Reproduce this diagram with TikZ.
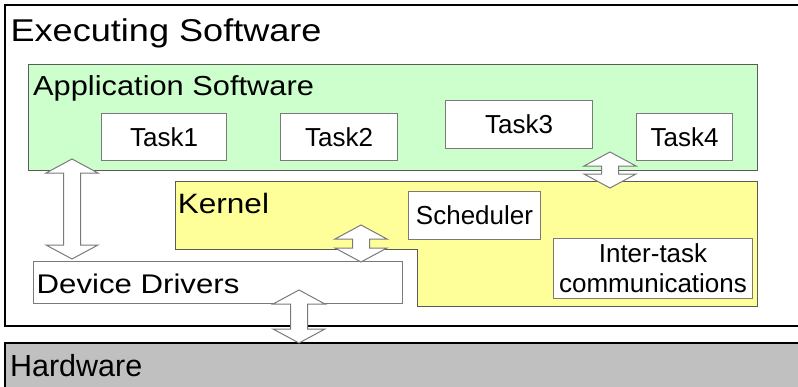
\documentclass[tikz,border=0pt]{standalone}
\usepackage{fontspec}
\setmainfont{Liberation Sans}
\usepackage{graphicx}
\definecolor{appgreen}{HTML}{CCFFCC}
\definecolor{kernyellow}{HTML}{FFFF99}
\definecolor{hwgray}{HTML}{C0C0C0}
\definecolor{edgegray}{HTML}{5A5A5A}
\definecolor{boxgray}{HTML}{7A7A7A}
\newcommand\txt[3]{\scalebox{#1}[1]{\fontsize{#2}{#2}\selectfont #3}}
\newcommand\dblarrow[3]{%
  \draw[blockarrow] (#1,-#2) -- ++(26,-14) -- ++(-17.5,0) -- (#1+8.5,-#3+14) -- ++(17.5,0) -- (#1,-#3)
    -- ++(-26,14) -- ++(17.5,0) -- (#1-8.5,-#2-14) -- ++(-17.5,0) -- cycle;}
\tikzset{
  outerline/.style={draw=black, line width=2pt},
  layer/.style={draw=edgegray, line width=1pt},
  taskbox/.style={draw=boxgray, fill=white, line width=1pt, anchor=north west, inner sep=0pt,
    align=center, font=\fontsize{26}{30}\selectfont},
  title/.style={anchor=base west, inner sep=0pt},
  blockarrow/.style={draw=boxgray, fill=white, line width=1pt, line join=miter},
}
\begin{document}
\begin{tikzpicture}[x=1pt,y=1pt]
\useasboundingbox (0,0) rectangle (798,-386);
\begin{scope}
\clip (0,0) rectangle (798,-386);
% outer executing software box
\draw[outerline, fill=white] (5,-5) rectangle (810,-326);
% hardware
\draw[outerline, fill=hwgray] (5,-343) rectangle (810,-400);
% application software
\draw[layer, fill=appgreen] (28,-64) rectangle (757,-170);
% kernel (L shape)
\draw[layer, fill=kernyellow] (175,-181) -- (757,-181) -- (757,-306) -- (417,-306) -- (417,-249) -- (175,-249) -- cycle;
\end{scope}
\node[title] (exec) at (10.4,-41.7) {\txt{1.146}{31.5}{Executing Software}};
\node[title] (hw) at (9.9,-376.7) {\txt{1.0}{30.5}{Hardware}};
\node[title] (app) at (33,-95.7) {\txt{1.12}{27.5}{Application Software}};
\node[title] (kern) at (177.7,-213.3) {\txt{1.126}{28}{Kernel}};
% tasks
\node[taskbox, minimum width=125, minimum height=47] (t1) at (101,-113) {Task1};
\node[taskbox, minimum width=117, minimum height=47] (t2) at (280,-113) {Task2};
\node[taskbox, minimum width=147, minimum height=48] (t3) at (445,-100) {Task3};
\node[taskbox, minimum width=96, minimum height=47] (t4) at (636,-113) {Task4};
% kernel parts
\node[taskbox, minimum width=132, minimum height=48] (sched) at (408,-191) {Scheduler};
\node[taskbox, minimum width=199, minimum height=60] (itc) at (553,-238) {Inter-task\\communications};
% device drivers
\draw[draw=boxgray, fill=white, line width=1pt] (33,-261) rectangle (402,-303);
\node[title] (dd) at (36.5,-293.3) {\txt{1.155}{27}{Device Drivers}};
% block arrows
\dblarrow{72}{159}{259}
\dblarrow{610}{152}{188}
\dblarrow{361}{225}{262}
\dblarrow{299}{290}{343}
\end{tikzpicture}
\end{document}
